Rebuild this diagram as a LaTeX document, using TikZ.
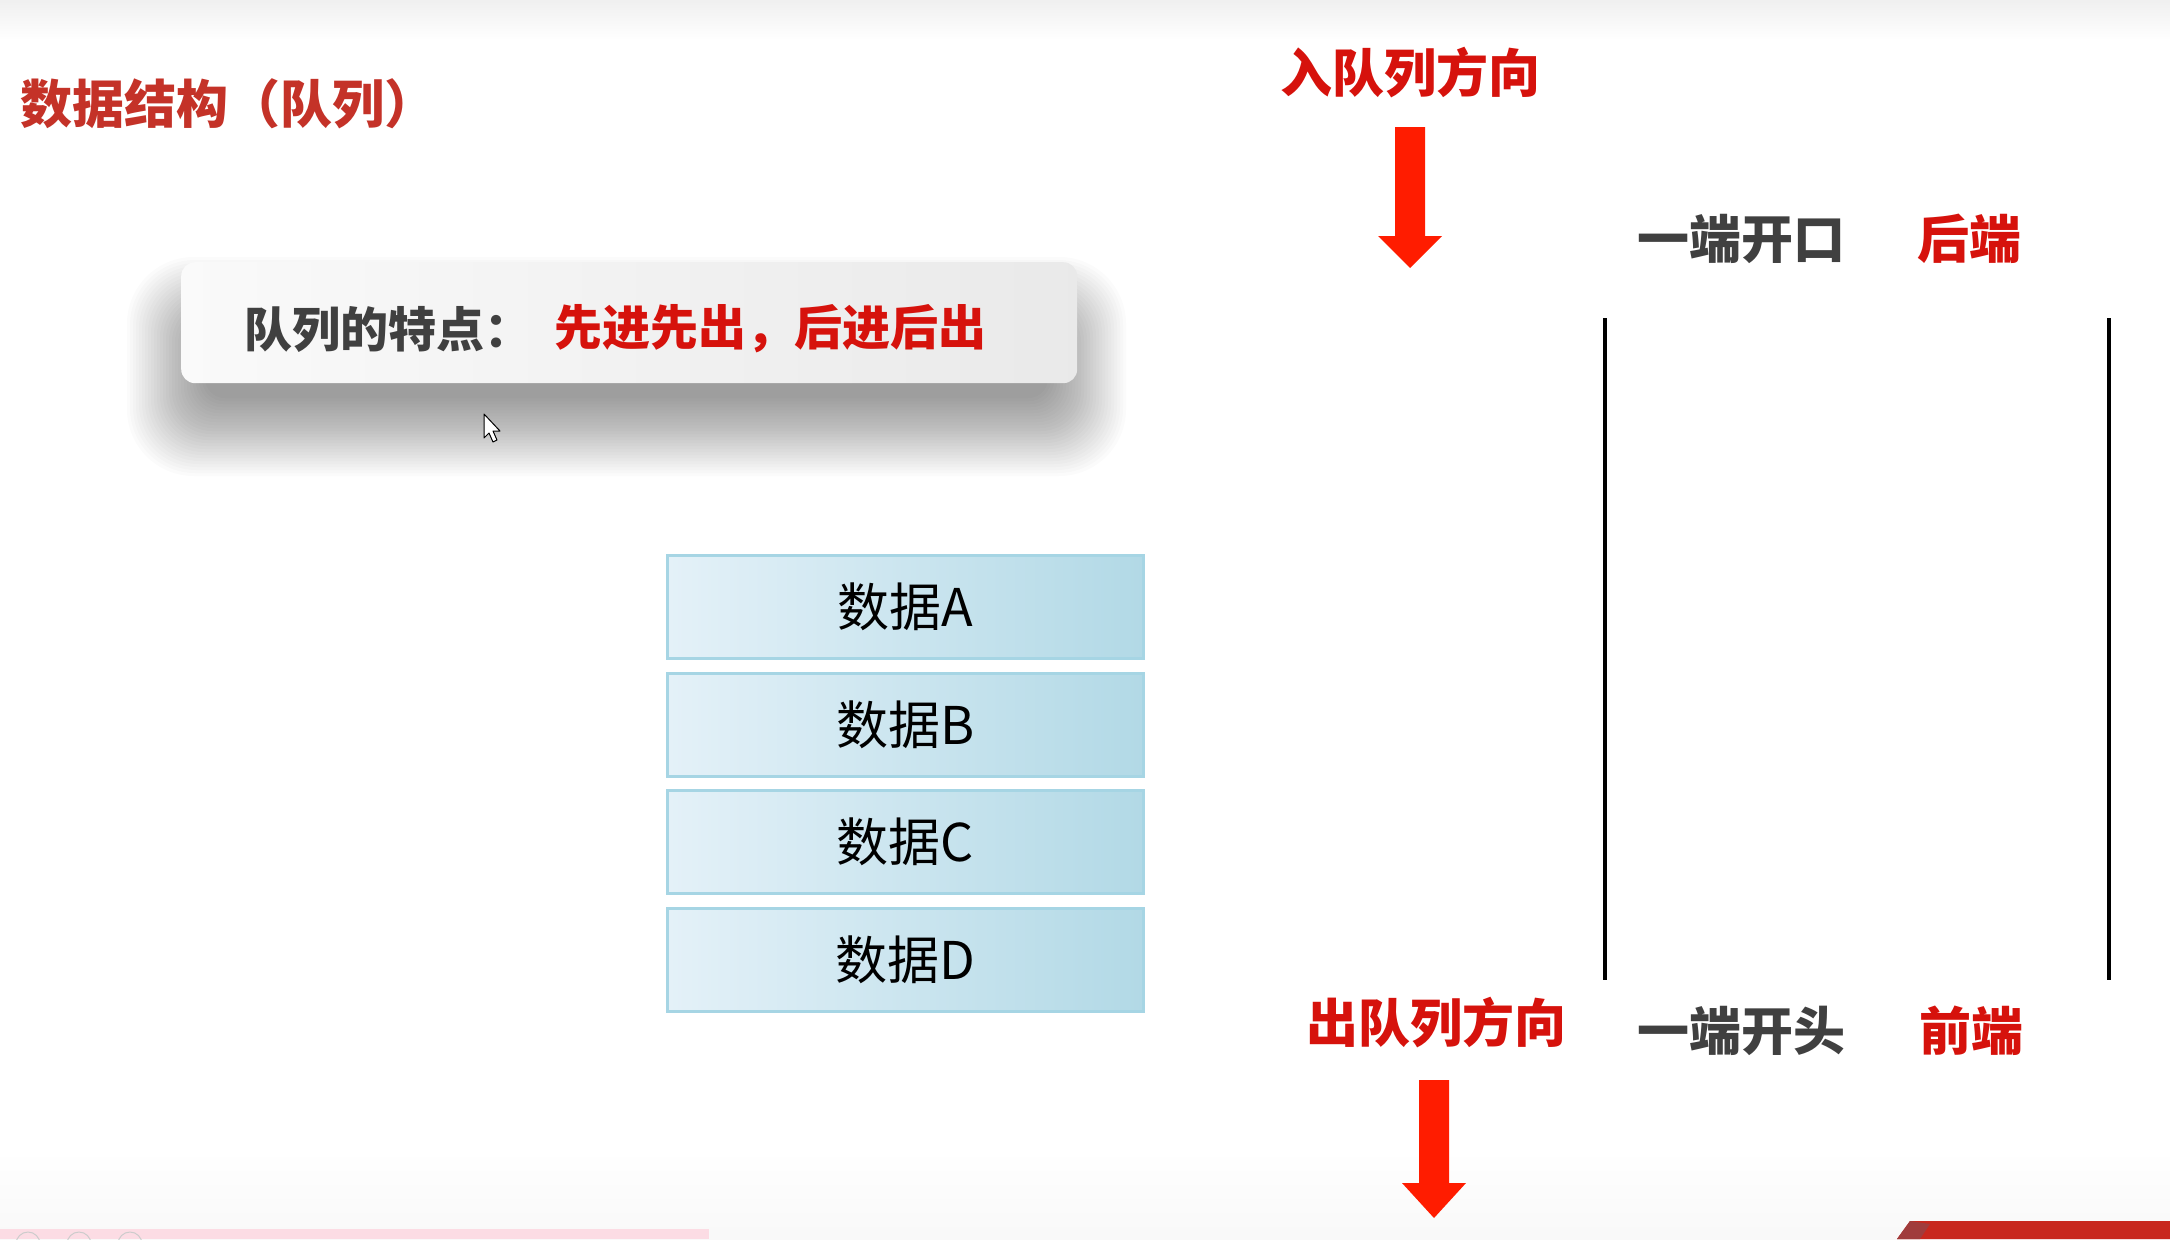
\documentclass[tikz,border=0pt]{standalone}
\usepackage{fontspec}
\newfontfamily\cjk{Noto Sans CJK SC}
\definecolor{titlered}{RGB}{196,50,40}
\definecolor{textred}{RGB}{214,18,12}
\definecolor{arrowred}{RGB}{255,28,0}
\definecolor{darkgray}{RGB}{64,64,64}
\definecolor{boxl}{RGB}{228,241,248}
\definecolor{boxm}{RGB}{196,226,237}
\definecolor{boxr}{RGB}{178,217,230}
\definecolor{boxedge}{RGB}{166,213,228}
\definecolor{pinkstrip}{RGB}{252,220,228}
\definecolor{bannerred}{RGB}{200,40,30}
\definecolor{bannerdark}{RGB}{160,60,60}
\tikzset{
  bigfont/.style={font=\cjk\bfseries\fontsize{52}{60}\selectfont},
  datafont/.style={font=\cjk\fontsize{52}{60}\selectfont},
  databox/.style={draw=boxedge, line width=3pt, left color=boxl, middle color=boxm, right color=boxr,
     minimum width=476pt, minimum height=103pt, inner sep=0pt, datafont, text=black},
  arrowshape/.style={fill=arrowred, draw=none},
  wall/.style={line width=4.5pt, black},
  softshadow/.style={fill=black, opacity=0.015},
}
\begin{document}
\begin{tikzpicture}[x=1pt,y=-1pt]
\useasboundingbox (0,0) rectangle (2170,1239);
\fill[white] (0,0) rectangle (2170,1239);
% top faint band
\shade[top color=gray!12, bottom color=white] (0,0) rectangle (2170,40);
\shade[top color=white, bottom color=gray!5] (0,1150) rectangle (2170,1239);

% title
\node[bigfont, text=titlered, anchor=west, inner sep=0pt] (title) at (20,104) {数据结构（队列）};

% soft shadow of the feature box
\foreach \i in {0,...,26} {
  \pgfmathsetmacro{\e}{\i*3}
  \fill[softshadow, rounded corners={20pt+\e*0.6pt}] (205-\e,335-\e) rectangle (1048+\e,398+\e);
}
% feature box
\node[draw=none, rounded corners=14pt, left color=gray!4, right color=gray!17,
      minimum width=896pt, minimum height=121pt, anchor=north west]
      (feat) at (181,262) {};
\node[font=\cjk\bfseries\fontsize{48}{58}\selectfont, text=darkgray, anchor=west, inner sep=0pt] (featlbl) at (244,329) {队列的特点：};
\node[font=\cjk\bfseries\fontsize{48}{58}\selectfont, text=textred, anchor=west, inner sep=0pt] (feattxt) at (554,329) {先进先出，后进后出};

% cursor
\draw[black, line width=1pt, fill=white, line join=round] (484,414) -- (484,438) -- (489,433) -- (493,442) -- (497,440) -- (493,431) -- (500,431) -- cycle;

% data boxes
\node[databox, anchor=north west] (dA) at (666,554) {数据A};
\node[databox, anchor=north west] (dB) at (666,672) {数据B};
\node[databox, anchor=north west] (dC) at (666,789) {数据C};
\node[databox, anchor=north west] (dD) at (666,907) {数据D};

% labels right
\node[bigfont, text=textred, inner sep=0pt] (inlbl) at (1410,73) {入队列方向};
\node[bigfont, text=textred, inner sep=0pt] (outlbl) at (1436,1023) {出队列方向};
\node[bigfont, text=darkgray, anchor=west, inner sep=0pt] (open) at (1637,239) {一端开口};
\node[bigfont, text=textred, anchor=west, inner sep=0pt] (rear) at (1917,239) {后端};
\node[bigfont, text=darkgray, anchor=west, inner sep=0pt] (head) at (1637,1031) {一端开头};
\node[bigfont, text=textred, anchor=west, inner sep=0pt] (front) at (1919,1031) {前端};

% walls
\coordinate (lt) at (1605,318);
\coordinate (lb) at (1605,980);
\coordinate (rt) at (2109,318);
\coordinate (rb) at (2109,980);
\draw[wall] (lt) -- (lb);
\draw[wall] (rt) -- (rb);

% arrows
\fill[arrowshape] (1395,127) -- (1425,127) -- (1425,236) -- (1442,236) -- (1410,268) -- (1378,236) -- (1395,236) -- cycle;
\fill[arrowshape] (1419,1080) -- (1449,1080) -- (1449,1183) -- (1466,1183) -- (1434,1218) -- (1402,1183) -- (1419,1183) -- cycle;

% bottom strips
\fill[pinkstrip] (0,1229) rectangle (709,1239);
\begin{scope}
\clip (0,1229) rectangle (709,1239);
\foreach \cx in {28,79,130} \draw[gray!40, line width=1pt] (\cx,1244) circle (12);
\end{scope}
\fill[bannerred] (1910,1221) -- (2170,1221) -- (2170,1239) -- (1897,1239) -- cycle;
\fill[bannerdark] (1910,1221) -- (1930,1224) -- (1920,1239) -- (1897,1239) -- cycle;
\end{tikzpicture}
\end{document}
